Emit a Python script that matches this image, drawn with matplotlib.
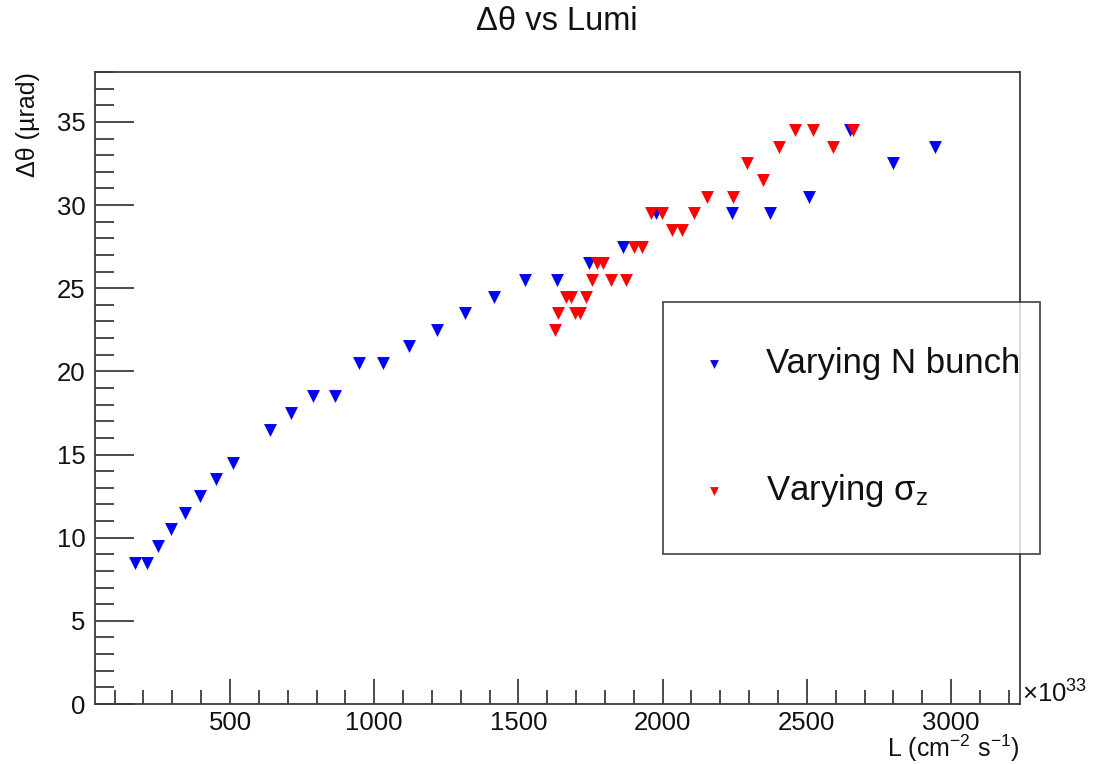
import matplotlib
matplotlib.use("Agg")
import matplotlib.pyplot as plt
from matplotlib.ticker import MultipleLocator
from matplotlib import font_manager

# ---- data ----
blue_x = [171, 211, 251, 295, 344, 396, 451, 511, 640, 712, 787, 864, 947, 1032,
          1122, 1217, 1315, 1415, 1523, 1633, 1745, 1862, 1977, 2240, 2372, 2509,
          2650, 2798, 2944]
blue_y = [8.5, 8.5, 9.5, 10.5, 11.5, 12.5, 13.5, 14.5, 16.5, 17.5, 18.5, 18.5,
          20.5, 20.5, 21.5, 22.5, 23.5, 24.5, 25.5, 25.5, 26.5, 27.5, 29.5, 29.5,
          29.5, 30.5, 34.5, 32.5, 33.5]

red_x = [1627, 1638, 1697, 1714, 1665, 1682, 1733, 1754, 1820, 1873, 1774, 1794,
         1902, 1930, 2033, 2068, 1960, 1997, 2109, 2153, 2243, 2347, 2292, 2402,
         2590, 2460, 2523, 2659]
red_y = [22.5, 23.5, 23.5, 23.5, 24.5, 24.5, 24.5, 25.5, 25.5, 25.5, 26.5, 26.5,
         27.5, 27.5, 28.5, 28.5, 29.5, 29.5, 29.5, 30.5, 30.5, 31.5, 32.5, 33.5,
         33.5, 34.5, 34.5, 34.5]

labels = ["Varying N bunch", r"Varying σ$_{\mathregular{z}}$"]
title = "Δθ vs Lumi"
xlabel = r"L (cm$^{\mathregular{-2}}$ s$^{\mathregular{-1}}$)"
ylabel = "Δθ (µrad)"

# ---- style ----
avail = {f.name for f in font_manager.fontManager.ttflist}
fam = "Liberation Sans" if "Liberation Sans" in avail else "DejaVu Sans"
plt.rcParams["font.family"] = [fam, "DejaVu Sans"]
plt.rcParams["mathtext.fontset"] = "custom"
plt.rcParams["mathtext.rm"] = fam
plt.rcParams["mathtext.it"] = fam + ":italic"
plt.rcParams["mathtext.bf"] = fam + ":bold"

W, H = 1098, 764
fig = plt.figure(figsize=(W / 100, H / 100), dpi=100)
L, R, T, B = 95, 1020, 72, 704
ax = fig.add_axes([L / W, 1 - B / H, (R - L) / W, (B - T) / H])

ax.scatter(blue_x, blue_y, marker="v", s=9.3 ** 2, color="#0000ff",
           linewidths=0, label=labels[0], zorder=3)
ax.scatter(red_x, red_y, marker="v", s=9.3 ** 2, color="#ff0000",
           linewidths=0, label=labels[1], zorder=4)

ax.set_xlim(32, 3239)
ax.set_ylim(0, 38)

ax.xaxis.set_major_locator(MultipleLocator(500))
ax.xaxis.set_minor_locator(MultipleLocator(100))
ax.yaxis.set_major_locator(MultipleLocator(5))
ax.yaxis.set_minor_locator(MultipleLocator(1))

spine_c = "#3c3c3c"
for s in ax.spines.values():
    s.set_color(spine_c)
    s.set_linewidth(1.3)

ax.tick_params(axis="both", which="both", direction="in", color=spine_c,
               width=1.3, labelsize=18.5, labelcolor="#111111")
ax.tick_params(axis="y", which="major", length=28, pad=7)
ax.tick_params(axis="y", which="minor", length=14)
ax.tick_params(axis="x", which="major", length=18, pad=5)
ax.tick_params(axis="x", which="minor", length=10)
ax.tick_params(top=False, right=False)

# title and axis labels
fig.text(557 / W, 1 - 21 / H, title, ha="center", va="center", fontsize=23.5,
         color="#111111")
fig.text(1020 / W, 1 - 748 / H, xlabel, ha="right", va="center", fontsize=18,
         color="#111111")
fig.text(28 / W, 1 - 72 / H, ylabel, ha="center", va="top", rotation=90,
         fontsize=18, color="#111111")
fig.text(1022 / W, 1 - 703 / H, r"×10$^{\mathregular{33}}$", ha="left",
         va="baseline", fontsize=18.5, color="#111111")

# legend
x0, x1, y_top, y_bot = 663, 1040, 302, 553
leg = ax.legend(loc="upper left",
                bbox_to_anchor=(x0 / W, 1 - y_bot / H, (x1 - x0) / W,
                                (y_bot - y_top) / H),
                bbox_transform=fig.transFigure, mode="expand",
                fontsize=25, markerscale=0.68, frameon=True, fancybox=False,
                shadow=False, borderpad=1.3, handlelength=0.34,
                handletextpad=1.33, labelspacing=2.65, borderaxespad=0)
leg.get_frame().set_edgecolor("#222222")
leg.get_frame().set_linewidth(1.3)
leg.set_zorder(10)
for t in leg.get_texts():
    t.set_color("#111111")

fig.savefig("out.png", dpi=100)
